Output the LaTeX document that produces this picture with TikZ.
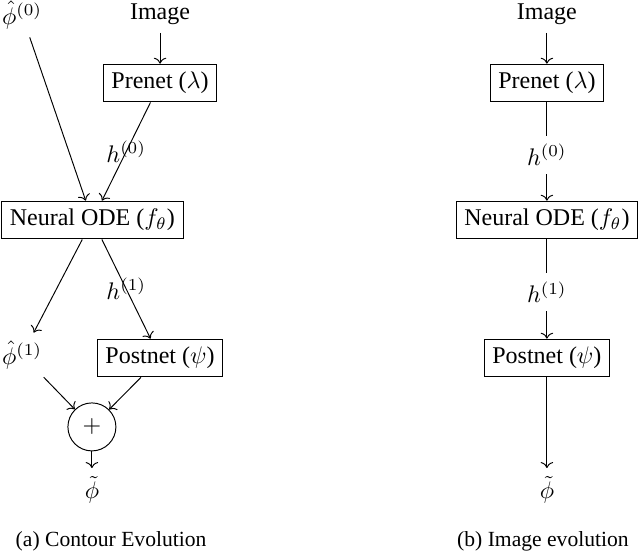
\documentclass[tikz,border=0pt]{standalone}
\usepackage{amsmath,amssymb}
\usepackage[no-math]{fontspec}
\setmainfont{Liberation Serif}
\usepackage{tikz}
\usetikzlibrary{arrows.meta}

\begin{document}
\begin{tikzpicture}[
          x=1pt,y=-1pt,
          box/.style={
              draw,
              rectangle,
              inner sep=3.33pt
            },sumnode/.style={
              draw,
              circle,
              minimum size=20pt,
              inner sep=0pt
            },caption/.style={
              font=\small
            }
        ]
        \useasboundingbox (0,0) rectangle (266.7,230.4);

        % (a) 輪郭の発展
        \node (phi0) at (9.2,6.25) {$\hat{\phi}^{(0)}$};
        \node (imageA) at (66.7,5.8) {Image};
        \node[box] (prenetA) at (66.7,34.6) {Prenet ($\lambda$)};
        \node[box] (odeA) at (38.5,91.7) {Neural ODE ($f_\theta$)};
        \node (phi1) at (9.2,147.9) {$\hat{\phi}^{(1)}$};
        \node[box] (postnetA) at (66.7,149.2) {Postnet ($\psi$)};
        \node[sumnode] (plus) at (38.3,177.9) {$+$};
        \node (phitA) at (38.3,204.2) {$\tilde{\phi}$};

        \draw[->] (imageA) -- (prenetA);
        \draw[->] (phi0) -- (odeA);
        \draw[->] (prenetA) -- (odeA) node[midway] {$h^{(0)}$};
        \draw[->] (odeA) -- (phi1);
        \draw[->] (odeA) -- (postnetA) node[midway] {$h^{(1)}$};
        \draw[->] (phi1) -- (plus);
        \draw[->] (postnetA) -- (plus);
        \draw[->] (plus) -- (phitA);

        % (b) 画像の発展
        \node (imageB) at (227.9,5.8) {Image};
        \node[box] (prenetB) at (227.9,34.6) {Prenet ($\lambda$)};
        \node (h0) at (227.9,64.6) {$h^{(0)}$};
        \node[box] (odeB) at (227.9,91.7) {Neural ODE ($f_\theta$)};
        \node (h1) at (227.9,121.7) {$h^{(1)}$};
        \node[box] (postnetB) at (227.9,149.2) {Postnet ($\psi$)};
        \node (phitB) at (227.9,204.2) {$\tilde{\phi}$};

        \draw[->] (imageB) -- (prenetB);
        \draw (prenetB) -- (h0);
        \draw[->] (h0) -- (odeB);
        \draw (odeB) -- (h1);
        \draw[->] (h1) -- (postnetB);
        \draw[->] (postnetB) -- (phitB);

        % キャプション
        \node[caption] (capA) at (46.3,225.4) {(a) Contour Evolution};
        \node[caption] (capB) at (226.25,225.4) {(b) Image evolution};

      \end{tikzpicture}
\end{document}
